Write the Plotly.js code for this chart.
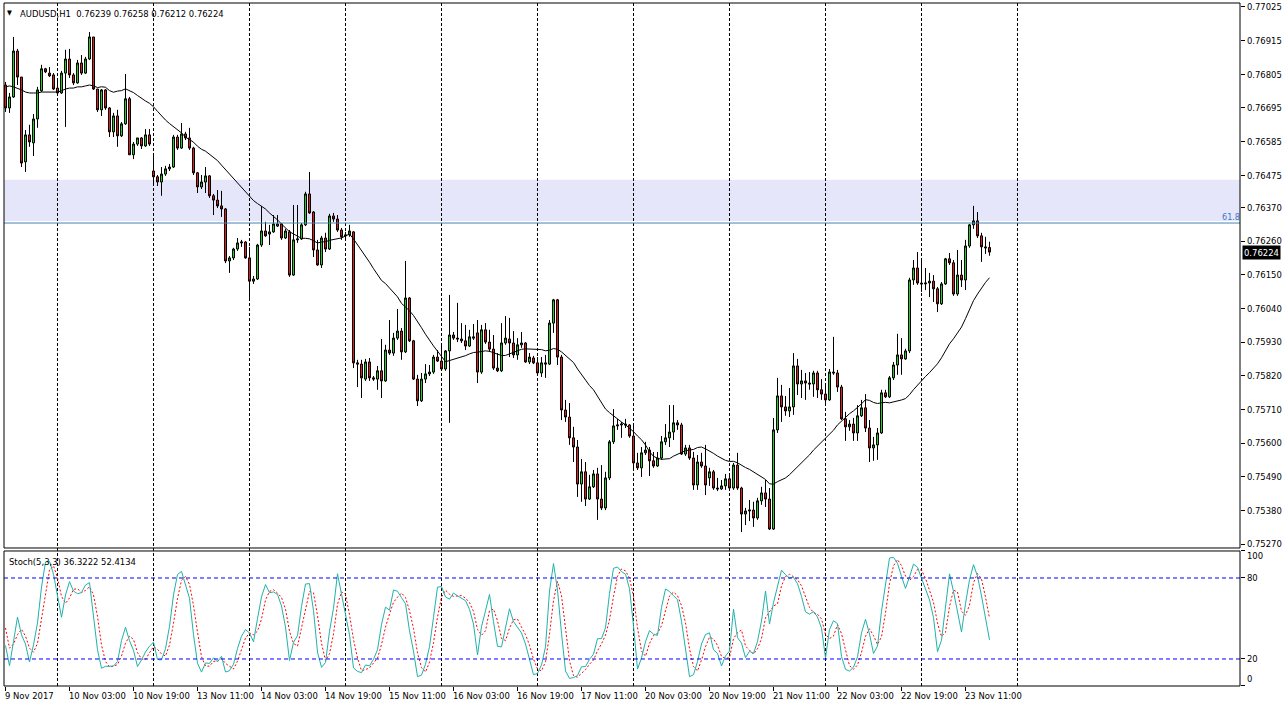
<!DOCTYPE html>
<html><head><meta charset="utf-8">
<script src="https://cdn.plot.ly/plotly-3.0.1.min.js"></script>
<style>html,body{margin:0;padding:0;background:#fff;overflow:hidden}#chart{width:1288px;height:708px}</style>
</head><body><div id="chart"></div>
<script>
// ---- data (AUDUSD H1, bar 0 = 9 Nov 2017 11:00) ----
const symbolTitle = 'AUDUSD,H1';
const open = [
0.76770,0.76695,0.76731,0.76881,0.76796,0.76519,0.76607,0.76581,0.76659,0.76751,
0.76823,0.76809,0.76803,0.76760,0.76744,0.76809,0.76855,0.76803,0.76777,0.76842,
0.76809,0.76855,0.76927,0.76757,0.76689,0.76754,0.76695,0.76617,0.76669,0.76604,
0.76643,0.76725,0.76542,0.76577,0.76597,0.76571,0.76607,0.76489,0.76470,0.76453,
0.76479,0.76496,0.76502,0.76600,0.76564,0.76610,0.76597,0.76564,0.76483,0.76437,
0.76453,0.76473,0.76408,0.76394,0.76375,0.76365,0.76195,0.76205,0.76234,0.76254,
0.76257,0.76205,0.76129,0.76136,0.76247,0.76293,0.76283,0.76290,0.76309,0.76316,
0.76270,0.76290,0.76149,0.76264,0.76267,0.76313,0.76414,0.76355,0.76231,0.76182,
0.76270,0.76234,0.76342,0.76332,0.76296,0.76277,0.76280,0.76290,0.75862,0.75858,
0.75809,0.75865,0.75813,0.75809,0.75836,0.75803,0.75904,0.75894,0.75943,0.75966,
0.75898,0.76074,0.75934,0.75809,0.75738,0.75809,0.75826,0.75832,0.75881,0.75868,
0.75842,0.75901,0.75953,0.75943,0.75940,0.75934,0.75917,0.75947,0.75960,0.75832,
0.75970,0.75930,0.75907,0.75845,0.75836,0.75927,0.75940,0.75927,0.75888,0.75921,
0.75927,0.75865,0.75878,0.75862,0.75829,0.75862,0.75858,0.75992,0.76068,0.75881,
0.75708,0.75685,0.75617,0.75587,0.75466,0.75506,0.75417,0.75457,0.75499,0.75417,
0.75388,0.75486,0.75604,0.75656,0.75659,0.75662,0.75659,0.75623,0.75535,0.75519,
0.75568,0.75577,0.75542,0.75525,0.75551,0.75604,0.75617,0.75636,0.75666,0.75659,
0.75564,0.75584,0.75551,0.75463,0.75538,0.75525,0.75486,0.75506,0.75453,0.75450,
0.75460,0.75483,0.75453,0.75528,0.75453,0.75368,0.75378,0.75381,0.75355,0.75411,
0.75437,0.75417,0.75319,0.75643,0.75754,0.75718,0.75705,0.75718,0.75852,0.75793,
0.75803,0.75796,0.75793,0.75829,0.75774,0.75760,0.75741,0.75832,0.75829,0.75783,
0.75679,0.75653,0.75662,0.75633,0.75689,0.75715,0.75649,0.75584,0.75594,0.75633,
0.75764,0.75751,0.75813,0.75855,0.75888,0.75875,0.75901,0.76133,0.76172,0.76123,
0.76120,0.76123,0.76129,0.76104,0.76055,0.76120,0.76202,0.76189,0.76087,0.76149,
0.76133,0.76244,0.76313,0.76326,0.76277,0.76241,0.76239];
const high = [
0.76780,0.76744,0.76927,0.76888,0.76796,0.76623,0.76640,0.76675,0.76764,0.76836,
0.76826,0.76829,0.76809,0.76787,0.76816,0.76885,0.76888,0.76809,0.76852,0.76868,
0.76862,0.76943,0.76927,0.76757,0.76757,0.76757,0.76698,0.76679,0.76689,0.76649,
0.76806,0.76731,0.76584,0.76597,0.76600,0.76626,0.76626,0.76545,0.76476,0.76502,
0.76506,0.76512,0.76607,0.76607,0.76646,0.76617,0.76630,0.76568,0.76486,0.76476,
0.76502,0.76476,0.76414,0.76427,0.76424,0.76368,0.76211,0.76238,0.76270,0.76264,
0.76260,0.76241,0.76146,0.76251,0.76375,0.76323,0.76313,0.76345,0.76345,0.76319,
0.76300,0.76296,0.76378,0.76378,0.76319,0.76421,0.76486,0.76358,0.76264,0.76277,
0.76287,0.76349,0.76352,0.76345,0.76303,0.76290,0.76313,0.76293,0.75872,0.75872,
0.75875,0.75878,0.75819,0.75852,0.75940,0.75921,0.76002,0.75960,0.76038,0.75976,
0.76195,0.76077,0.75937,0.75823,0.75829,0.75858,0.75855,0.75888,0.75904,0.75921,
0.75904,0.76084,0.75963,0.76058,0.75992,0.75986,0.75970,0.75989,0.76002,0.75986,
0.75992,0.75970,0.75953,0.75894,0.75992,0.76015,0.76009,0.75966,0.75943,0.75963,
0.75930,0.75894,0.75885,0.75881,0.75881,0.75888,0.76002,0.76071,0.76071,0.75888,
0.75741,0.75731,0.75653,0.75610,0.75548,0.75538,0.75496,0.75512,0.75519,0.75528,
0.75506,0.75610,0.75711,0.75679,0.75669,0.75679,0.75662,0.75662,0.75568,0.75587,
0.75604,0.75587,0.75571,0.75571,0.75623,0.75662,0.75724,0.75724,0.75675,0.75666,
0.75594,0.75594,0.75571,0.75561,0.75568,0.75594,0.75519,0.75512,0.75486,0.75479,
0.75499,0.75496,0.75535,0.75568,0.75457,0.75388,0.75414,0.75408,0.75421,0.75457,
0.75479,0.75453,0.75682,0.75813,0.75790,0.75754,0.75780,0.75894,0.75875,0.75839,
0.75829,0.75832,0.75836,0.75836,0.75809,0.75790,0.75842,0.75947,0.75839,0.75790,
0.75702,0.75675,0.75682,0.75724,0.75741,0.75760,0.75675,0.75620,0.75649,0.75774,
0.75774,0.75819,0.75865,0.75957,0.75943,0.75908,0.76140,0.76198,0.76224,0.76198,
0.76172,0.76156,0.76149,0.76110,0.76126,0.76205,0.76221,0.76198,0.76231,0.76198,
0.76264,0.76316,0.76375,0.76355,0.76287,0.76274,0.76258];
const low = [
0.76682,0.76679,0.76728,0.76770,0.76502,0.76486,0.76568,0.76538,0.76630,0.76747,
0.76809,0.76796,0.76754,0.76741,0.76741,0.76633,0.76793,0.76770,0.76774,0.76803,
0.76806,0.76852,0.76754,0.76682,0.76669,0.76689,0.76600,0.76600,0.76568,0.76600,
0.76640,0.76542,0.76528,0.76571,0.76561,0.76568,0.76571,0.76440,0.76440,0.76408,
0.76473,0.76489,0.76499,0.76558,0.76561,0.76590,0.76558,0.76476,0.76417,0.76430,
0.76417,0.76401,0.76345,0.76368,0.76339,0.76188,0.76156,0.76198,0.76228,0.76241,
0.76202,0.76074,0.76120,0.76133,0.76241,0.76274,0.76247,0.76287,0.76306,0.76264,
0.76267,0.76143,0.76146,0.76254,0.76264,0.76309,0.76349,0.76208,0.76179,0.76172,
0.76224,0.76231,0.76323,0.76290,0.76264,0.76270,0.76274,0.75845,0.75783,0.75747,
0.75803,0.75803,0.75803,0.75774,0.75747,0.75800,0.75888,0.75885,0.75937,0.75872,
0.75894,0.75930,0.75806,0.75721,0.75734,0.75796,0.75819,0.75826,0.75865,0.75839,
0.75836,0.75666,0.75937,0.75930,0.75927,0.75904,0.75914,0.75937,0.75796,0.75826,
0.75924,0.75898,0.75839,0.75832,0.75832,0.75921,0.75881,0.75878,0.75872,0.75911,
0.75862,0.75858,0.75858,0.75823,0.75816,0.75813,0.75855,0.75960,0.75855,0.75675,
0.75669,0.75594,0.75538,0.75424,0.75408,0.75394,0.75414,0.75453,0.75349,0.75381,
0.75381,0.75479,0.75597,0.75643,0.75617,0.75649,0.75617,0.75512,0.75512,0.75489,
0.75561,0.75492,0.75519,0.75522,0.75545,0.75594,0.75587,0.75610,0.75643,0.75561,
0.75558,0.75545,0.75447,0.75447,0.75519,0.75430,0.75460,0.75447,0.75443,0.75447,
0.75447,0.75447,0.75447,0.75447,0.75309,0.75332,0.75345,0.75326,0.75349,0.75398,
0.75391,0.75316,0.75316,0.75633,0.75669,0.75689,0.75685,0.75692,0.75757,0.75747,
0.75741,0.75774,0.75751,0.75747,0.75741,0.75731,0.75738,0.75823,0.75767,0.75675,
0.75607,0.75640,0.75607,0.75607,0.75685,0.75636,0.75538,0.75542,0.75545,0.75630,
0.75747,0.75747,0.75806,0.75823,0.75823,0.75872,0.75894,0.76117,0.76117,0.76094,
0.76100,0.76077,0.76061,0.76028,0.76051,0.76117,0.76182,0.76081,0.76081,0.76110,
0.76100,0.76238,0.76300,0.76270,0.76192,0.76218,0.76212];
const close = [
0.76695,0.76731,0.76881,0.76796,0.76515,0.76607,0.76584,0.76659,0.76754,0.76823,
0.76813,0.76800,0.76757,0.76744,0.76809,0.76855,0.76803,0.76777,0.76842,0.76809,
0.76855,0.76927,0.76757,0.76689,0.76754,0.76695,0.76617,0.76669,0.76604,0.76643,
0.76725,0.76542,0.76577,0.76597,0.76571,0.76607,0.76577,0.76470,0.76453,0.76479,
0.76496,0.76502,0.76600,0.76564,0.76610,0.76597,0.76564,0.76483,0.76437,0.76453,
0.76473,0.76408,0.76394,0.76375,0.76365,0.76195,0.76205,0.76234,0.76254,0.76257,
0.76205,0.76129,0.76136,0.76247,0.76293,0.76277,0.76290,0.76316,0.76316,0.76270,
0.76293,0.76149,0.76264,0.76267,0.76313,0.76414,0.76352,0.76231,0.76182,0.76270,
0.76234,0.76342,0.76332,0.76296,0.76274,0.76280,0.76293,0.75862,0.75858,0.75813,
0.75865,0.75813,0.75809,0.75836,0.75803,0.75904,0.75894,0.75943,0.75966,0.75898,
0.76074,0.75934,0.75809,0.75738,0.75809,0.75826,0.75832,0.75881,0.75868,0.75842,
0.75901,0.75953,0.75943,0.75940,0.75934,0.75917,0.75947,0.75943,0.75832,0.75970,
0.75930,0.75907,0.75845,0.75836,0.75927,0.75943,0.75927,0.75888,0.75921,0.75927,
0.75865,0.75881,0.75862,0.75829,0.75862,0.75858,0.75992,0.76068,0.75881,0.75708,
0.75685,0.75617,0.75587,0.75466,0.75506,0.75417,0.75457,0.75499,0.75417,0.75388,
0.75486,0.75604,0.75656,0.75659,0.75662,0.75659,0.75623,0.75535,0.75519,0.75568,
0.75577,0.75542,0.75525,0.75551,0.75604,0.75617,0.75636,0.75666,0.75659,0.75564,
0.75584,0.75551,0.75463,0.75538,0.75525,0.75463,0.75506,0.75453,0.75450,0.75460,
0.75483,0.75453,0.75528,0.75453,0.75368,0.75378,0.75381,0.75355,0.75411,0.75437,
0.75417,0.75319,0.75643,0.75754,0.75718,0.75705,0.75718,0.75852,0.75793,0.75803,
0.75796,0.75793,0.75829,0.75774,0.75760,0.75741,0.75832,0.75829,0.75783,0.75679,
0.75653,0.75662,0.75633,0.75689,0.75715,0.75649,0.75584,0.75594,0.75633,0.75764,
0.75751,0.75813,0.75855,0.75888,0.75875,0.75901,0.76133,0.76172,0.76123,0.76120,
0.76123,0.76129,0.76104,0.76055,0.76120,0.76202,0.76189,0.76087,0.76149,0.76133,
0.76244,0.76313,0.76326,0.76277,0.76241,0.76238,0.76224];
// indicator values for the first bars (their history lies before bar 0)
const maHead = [0.76764,0.76767,0.76764,0.76760,0.76754,0.76747,0.76744,0.76744,0.76744,0.76747,
0.76747,0.76747,0.76747,0.76747,0.76751,0.76757,0.76760,0.76760,0.76764,0.76764,0.76767,0.76770,0.76767];
const stochMainHead = [30, 15, 33, 51, 38, 31];
const stochSignalHead = [43, 28, 31, 38, 42, 37, 28, 25];
const maPeriod = 24;
const priceTicks = [0.77025,0.76915,0.76805,0.76695,0.76585,0.76475,0.76370,0.76260,0.76150,
0.76040,0.75930,0.75820,0.75710,0.75600,0.75490,0.75380,0.75270];
const timeLabels = ['9 Nov 2017','10 Nov 03:00','10 Nov 19:00','13 Nov 11:00','14 Nov 03:00','14 Nov 19:00',
'15 Nov 11:00','16 Nov 03:00','16 Nov 19:00','17 Nov 11:00','20 Nov 03:00','20 Nov 19:00','21 Nov 11:00',
'22 Nov 03:00','22 Nov 19:00','23 Nov 11:00'];
const fibLevel = 0.76319;
const fibLabel = '61.8';
const zoneRange = [0.76326, 0.76460];
const stochTitle = 'Stoch(5,3,3) 36.3222 52.4134';
const stochLevels = [20, 80];
const stochTicks = [100, 80, 20, 0];

// ---- derived series ----
const n = close.length;
const idx = Array.from({length: n}, (_, i) => i);
const ma = idx.map(i => {
  if (i < maHead.length) return maHead[i];
  let s = 0; for (let j = i - maPeriod + 1; j <= i; j++) s += close[j];
  return s / maPeriod;
});
const K = 5, SL = 3, D = 3;
const ll = [], hh = [];
idx.forEach(i => { if (i >= K - 1) { ll[i] = Math.min(...low.slice(i - K + 1, i + 1)); hh[i] = Math.max(...high.slice(i - K + 1, i + 1)); } });
const stMain = idx.map(i => {
  if (i < stochMainHead.length) return stochMainHead[i];
  let a = 0, b = 0; for (let j = i - SL + 1; j <= i; j++) { a += close[j] - ll[j]; b += hh[j] - ll[j]; }
  return b > 0 ? 100 * a / b : 100;
});
const stSig = idx.map(i => {
  if (i < stochSignalHead.length) return stochSignalHead[i];
  let s = 0; for (let j = i - D + 1; j <= i; j++) s += stMain[j]; return s / D;
});

// ---- layout geometry ----
const FONT = "'DejaVu Sans Condensed','DejaVu Sans',sans-serif";
const FS = 9.4;
const barsPerLabel = 16, barsPerDay = 24, firstDayBar = 13;
const pxPerBar = 4, plotW = 1236;
const xr = [-0.375, -0.375 + plotW / pxPerBar];
const mainDom = [0.20205, 1];
const stDom = [0, 0.19766];

const shapes = [];
shapes.push({type:'rect', xref:'paper', yref:'y', x0:0, x1:1, y0:zoneRange[0], y1:zoneRange[1], fillcolor:'#E6E6FA', line:{width:0}, layer:'below'});
for (let b = firstDayBar; b <= n - 1 + barsPerDay; b += barsPerDay) {
  shapes.push({type:'line', xref:'x', yref:'paper', x0:b, x1:b, y0:0, y1:1, line:{color:'#000', width:1, dash:'3px,2px'}, layer:'below'});
}
shapes.push({type:'line', xref:'paper', yref:'y', x0:0, x1:1, y0:fibLevel, y1:fibLevel, line:{color:'#4682B4', width:1}});
stochLevels.forEach(v => shapes.push({type:'line', xref:'paper', yref:'y2', x0:0, x1:1, y0:v, y1:v, line:{color:'#0000FF', width:1, dash:'4px,3px'}}));
shapes.push({type:'rect', xref:'paper', yref:'paper', x0:0, x1:1, y0:mainDom[0], y1:mainDom[1], line:{color:'#000', width:1}, fillcolor:'rgba(0,0,0,0)'});
shapes.push({type:'rect', xref:'paper', yref:'paper', x0:0, x1:1, y0:stDom[0], y1:stDom[1], line:{color:'#000', width:1}, fillcolor:'rgba(0,0,0,0)'});

const ann = [];
ann.push({xref:'paper', yref:'paper', x:0, y:1, xanchor:'left', yanchor:'top', xshift:1, yshift:-4, showarrow:false,
  text:'▼', font:{family:FONT, size:7, color:'#000'}});
ann.push({xref:'paper', yref:'paper', x:0, y:1, xanchor:'left', yanchor:'top', xshift:14, yshift:-3, showarrow:false,
  text:symbolTitle + '  ' + [open[n-1], high[n-1], low[n-1], close[n-1]].map(v => v.toFixed(5)).join(' '),
  font:{family:FONT, size:FS, color:'#000'}});
ann.push({xref:'paper', yref:'paper', x:0, y:stDom[1], xanchor:'left', yanchor:'top', xshift:3, yshift:-3, showarrow:false,
  text:stochTitle, font:{family:FONT, size:FS, color:'#000'}});
ann.push({xref:'paper', yref:'y', x:1, y:fibLevel, xanchor:'right', yanchor:'bottom', xshift:2, yshift:-1, showarrow:false,
  text:fibLabel, font:{family:FONT, size:9, color:'#3C78C0'}});
ann.push({xref:'paper', yref:'y', x:1, y:close[n-1], xanchor:'left', yanchor:'middle', xshift:2, showarrow:false,
  text:close[n-1].toFixed(5), bgcolor:'#000', borderpad:1, font:{family:FONT, size:FS, color:'#fff'}});
// stochastic scale labels: the end ones are pulled inside the panel, as in the reference
stochTicks.forEach(v => ann.push({xref:'paper', yref:'y2', x:1, y:v, xanchor:'left', yanchor:'middle',
  xshift:5, yshift: v === 100 ? -5 : (v === 0 ? 7 : 0), showarrow:false, text:String(v),
  font:{family:FONT, size:FS, color:'#000'}}));
timeLabels.forEach((t, k) => ann.push({xref:'x', yref:'paper', x:k * barsPerLabel, y:0, xanchor:'left', yanchor:'top',
  xshift:-3, yshift:-2, showarrow:false, text:t, font:{family:FONT, size:FS, color:'#000'}}));

const traces = [
  {type:'candlestick', x:idx, open:open, high:high, low:low, close:close, xaxis:'x', yaxis:'y',
   increasing:{line:{color:'#000', width:1}, fillcolor:'#1ED21E'},
   decreasing:{line:{color:'#000', width:1}, fillcolor:'#E41B1B'},
   whiskerwidth:0, showlegend:false, hoverinfo:'skip'},
  {type:'scatter', mode:'lines', x:idx, y:ma, xaxis:'x', yaxis:'y', line:{color:'#000', width:1}, showlegend:false, hoverinfo:'skip'},
  {type:'scatter', mode:'lines', x:idx, y:stSig, xaxis:'x', yaxis:'y2', line:{color:'#FF0000', width:1, dash:'2px,2px'}, showlegend:false, hoverinfo:'skip'},
  {type:'scatter', mode:'lines', x:idx, y:stMain, xaxis:'x', yaxis:'y2', line:{color:'#20B2AA', width:1}, showlegend:false, hoverinfo:'skip'}
];

const layout = {
  width:1288, height:708, margin:{l:4, r:48, t:3, b:22}, paper_bgcolor:'#fff', plot_bgcolor:'#fff',
  showlegend:false, boxgap:0.5, boxgroupgap:0, font:{family:FONT, size:FS, color:'#000'},
  xaxis:{range:xr, domain:[0,1], anchor:'y2', showgrid:false, zeroline:false, showline:false,
    ticks:'outside', ticklen:4, tickcolor:'#000', tickvals:timeLabels.map((_, k) => k * barsPerLabel),
    showticklabels:false, rangeslider:{visible:false}, fixedrange:true},
  yaxis:{domain:mainDom, range:[0.75257, 0.77038], side:'right', anchor:'x', showgrid:false, zeroline:false,
    showline:false, ticks:'outside', ticklen:4, tickcolor:'#000', tickvals:priceTicks,
    ticktext:priceTicks.map(v => v.toFixed(5)), tickfont:{family:FONT, size:FS, color:'#000'}, fixedrange:true},
  yaxis2:{domain:stDom, range:[0, 100], side:'right', anchor:'x', showgrid:false, zeroline:false, showline:false,
    ticks:'outside', ticklen:4, tickcolor:'#000', tickvals:stochTicks, showticklabels:false, fixedrange:true},
  shapes:shapes, annotations:ann
};
Plotly.newPlot('chart', traces, layout, {staticPlot:true, displayModeBar:false});
</script></body></html>
